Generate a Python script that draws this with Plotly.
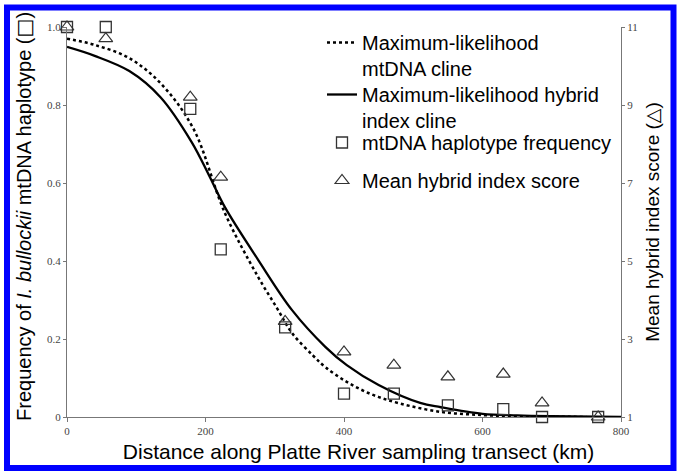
import plotly.graph_objects as go

# Observed data
site_km = [0, 56, 178, 222, 315, 400, 472, 550, 630, 686, 767]
mtdna_freq = [1.0, 1.0, 0.79, 0.43, 0.23, 0.06, 0.06, 0.03, 0.02, 0.0, 0.0]
hybrid_score = [11.0, 10.7, 9.2, 7.15, 3.45, 2.67, 2.33, 2.03, 2.1, 1.36, 1.0]

# Cline curves (frequency scale)
mt_cline_km = [0, 40, 90, 135, 182, 228, 276, 303, 325, 355, 373, 404, 440, 480, 540, 600, 650, 700, 750]
mt_cline_y = [0.97, 0.954, 0.92, 0.856, 0.741, 0.523, 0.359, 0.28, 0.215, 0.158, 0.128, 0.09, 0.058, 0.035, 0.013, 0.005, 0.002, 0.001, 0.0]
hi_cline_km = [0, 40, 90, 135, 180, 205, 228, 276, 325, 373, 404, 450, 510, 540, 600, 650, 700, 800]
hi_cline_y = [0.949, 0.926, 0.887, 0.82, 0.705, 0.62, 0.538, 0.403, 0.274, 0.18, 0.133, 0.082, 0.036, 0.025, 0.008, 0.004, 0.002, 0.0]

x_ticks = [0, 200, 400, 600, 800]
y_ticks = [0, 0.2, 0.4, 0.6, 0.8, 1.0]
y_tick_text = ["0", "0.2", "0.4", "0.6", "0.8", "1.0"]
y2_ticks = [1, 3, 5, 7, 9, 11]

fig = go.Figure()
fig.add_trace(go.Scatter(x=mt_cline_km, y=mt_cline_y, mode="lines", legend="legend",
                         line=dict(color="black", width=2.5, dash="dot", shape="spline"),
                         name="Maximum-likelihood<br>mtDNA cline"))
fig.add_trace(go.Scatter(x=hi_cline_km, y=hi_cline_y, mode="lines", legend="legend2",
                         line=dict(color="black", width=2.3, shape="spline"),
                         name="Maximum-likelihood hybrid<br>index cline"))
fig.add_trace(go.Scatter(x=site_km, y=mtdna_freq, mode="markers", cliponaxis=False, legend="legend3",
                         marker=dict(symbol="square-open", size=11, color="#333", line=dict(width=1.3)),
                         name="mtDNA haplotype frequency"))
fig.add_trace(go.Scatter(x=site_km, y=hybrid_score, mode="markers", yaxis="y2", cliponaxis=False, legend="legend4",
                         marker=dict(symbol="triangle-up-open", size=12, color="#333", line=dict(width=1.2)),
                         name="Mean hybrid index score"))

L, R, T, B = 67, 56, 27, 57
W, H = 677, 474
pw, ph = W - L - R, H - T - B
def px2x(px):
    return (px - L) / pw
def py2y(py):
    return (H - B - py) / ph

FONT = "Liberation Sans, Arial, DejaVu Sans, sans-serif"
tickfont = dict(family="Liberation Serif, Times New Roman, serif", size=11, color="#444")
def leg(top_px):
    return dict(x=px2x(322), y=py2y(top_px), xanchor="left", yanchor="top", bgcolor="rgba(0,0,0,0)",
                font=dict(size=20), itemwidth=30, valign="top")

NB = "&nbsp;"
fig.update_layout(
    width=W, height=H,
    margin=dict(l=L, r=R, t=T, b=B),
    paper_bgcolor="white", plot_bgcolor="white",
    font=dict(family=FONT, size=17, color="black"),
    showlegend=True,
    legend=leg(23), legend2=leg(75), legend3=leg(123), legend4=leg(161),
    xaxis=dict(range=[0, 800], tickvals=x_ticks, showline=True, linecolor="#777", linewidth=1,
               ticks="outside", ticklen=4, tickcolor="#777", tickfont=tickfont, showgrid=False, zeroline=False,
               title=dict(text=NB * 5 + "Distance along Platte River sampling transect (km)", font=dict(size=21), standoff=8)),
    yaxis=dict(range=[0, 1], tickvals=y_ticks, ticktext=y_tick_text, showline=True, linecolor="#777", linewidth=1,
               ticks="outside", ticklen=3, tickcolor="#777", tickfont=tickfont, showgrid=False, zeroline=False,
               title=dict(text=NB * 2 + "Frequency of <i>I. bullockii</i> mtDNA haplotype (<span style='font-family:DejaVu Sans'>□</span>)",
                          font=dict(size=20), standoff=10)),
    yaxis2=dict(range=[1, 11], tickvals=y2_ticks, overlaying="y", side="right", showline=True, linecolor="#777",
                linewidth=1, ticks="outside", ticklen=3, tickcolor="#777", tickfont=tickfont, showgrid=False,
                zeroline=False,
                title=dict(text="Mean hybrid index score (<span style='font-family:DejaVu Sans'>△</span>)",
                           font=dict(size=19), standoff=8)),
    shapes=[dict(type="rect", xref="paper", yref="paper",
                 x0=px2x(7), x1=px2x(673.5), y0=py2y(468), y1=py2y(7.5),
                 line=dict(color="#0000ff", width=6), fillcolor="rgba(0,0,0,0)", layer="above")],
)

fig.write_html("out.html", config={"displayModeBar": False},
               post_script="document.body.style.margin='0';document.body.style.overflow='hidden';")
